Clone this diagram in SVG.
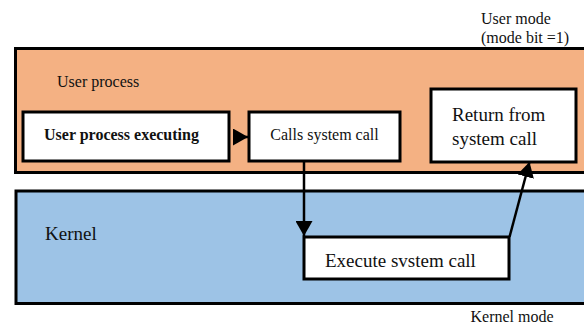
<svg xmlns="http://www.w3.org/2000/svg" width="584" height="325" viewBox="0 0 584 325">
<style>
text{font-family:"Liberation Serif","Times New Roman",serif;fill:#111}
.s16{font-size:16px}
.s19{font-size:19px}
.b{font-weight:bold}
.box{fill:#fff;stroke:#000;stroke-width:3}
.conn{stroke:#000;stroke-width:2.5;fill:none}
</style>
<defs>
<marker id="ah" markerUnits="userSpaceOnUse" markerWidth="16" markerHeight="17" refX="15" refY="8.5" orient="auto">
<path d="M0,0 L15,8.5 L0,17 Z" fill="#000"/>
</marker>
</defs>
<g id="user-region">
<rect x="15.5" y="48.5" width="580" height="124" fill="#F4B183" stroke="#000" stroke-width="3"/>
<text class="s16" x="57" y="87">User process</text>
</g>
<g id="kernel-region">
<rect x="16" y="191" width="580" height="112.5" fill="#9DC3E6" stroke="#000" stroke-width="3"/>
<text class="s19" x="45" y="240">Kernel</text>
</g>
<g id="user-mode-label">
<text class="s16" x="481" y="24">User mode</text>
<text class="s16" x="481" y="43">(mode bit =1)</text>
</g>
<g id="kernel-mode-label">
<text class="s16" x="470.5" y="322">Kernel mode</text>
</g>
<g id="n-executing">
<rect class="box" x="23" y="112" width="206" height="49"/>
<text class="s16 b" x="44" y="140">User process executing</text>
</g>
<g id="n-calls">
<rect class="box" x="249" y="112" width="151" height="49"/>
<text class="s16" x="324.5" y="140" text-anchor="middle">Calls system call</text>
</g>
<g id="n-return">
<rect class="box" x="431" y="89" width="145" height="73"/>
<text class="s19" x="452" y="120.5">Return from</text>
<text class="s19" x="452" y="145">system call</text>
</g>
<g id="n-execute">
<rect class="box" x="304" y="237" width="205" height="42"/>
<text class="s19" x="325" y="267">Execute svstem call</text>
</g>
<g id="connectors">
<line class="conn" x1="233" y1="137" x2="248" y2="137" marker-end="url(#ah)"/>
<line class="conn" x1="304" y1="161" x2="304" y2="236" marker-end="url(#ah)"/>
<line class="conn" x1="509.5" y1="237" x2="529.5" y2="162" marker-end="url(#ah)"/>
</g>
</svg>
